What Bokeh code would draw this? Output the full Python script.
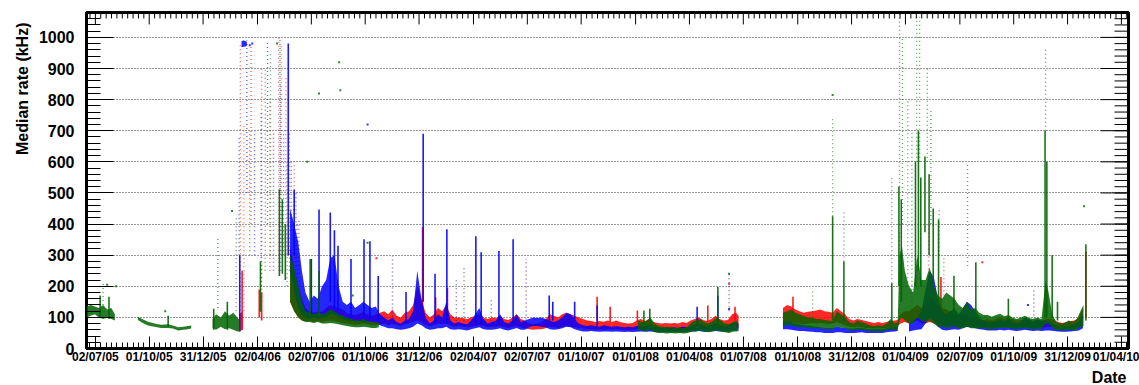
import numpy as np
from bokeh.plotting import figure
from bokeh.models import Range1d, FixedTicker, Title
from bokeh.embed import file_html
from bokeh.resources import INLINE

BASE_DATE = "2005-07-02"
X_START = "2005-06-17"
X_END = "2010-04-13"
Y_MAX = 1080

TICK_DATES = ["2005-07-02", "2005-10-01", "2005-12-31", "2006-04-02", "2006-07-02",
              "2006-10-01", "2006-12-31", "2007-04-02", "2007-07-02", "2007-10-01",
              "2008-01-01", "2008-04-01", "2008-07-01", "2008-10-01", "2008-12-31",
              "2009-04-01", "2009-07-02", "2009-10-01", "2009-12-31", "2010-04-01"]
TICK_LABELS = ["02/07/05", "01/10/05", "31/12/05", "02/04/06", "02/07/06",
               "01/10/06", "31/12/06", "02/04/07", "02/07/07", "01/10/07",
               "01/01/08", "01/04/08", "01/07/08", "01/10/08", "31/12/08",
               "01/04/09", "02/07/09", "01/10/09", "31/12/09", "01/04/10"]
Y_TICKS = [0, 100, 200, 300, 400, 500, 600, 700, 800, 900, 1000]
Y_MINOR = list(range(0, 1081, 20))

# ---------------- dense bands: (date, low kHz, high kHz); None = gap ----------------
RED_BAND = [
    ("2006-03-02", 55, 110), ("2006-03-08", 60, 120), None,
    ("2006-05-27", 150, 330), ("2006-06-03", 120, 260), ("2006-06-10", 100, 200),
    ("2006-06-16", 90, 160), ("2006-06-22", 88, 130), ("2006-06-29", 88, 120),
    ("2006-07-06", 85, 115), ("2006-07-13", 88, 120), ("2006-07-20", 85, 118),
    ("2006-07-27", 88, 130), ("2006-08-03", 90, 140), ("2006-08-10", 88, 135),
    ("2006-08-17", 85, 130), ("2006-08-24", 82, 125), ("2006-08-31", 80, 115),
    ("2006-09-07", 78, 110), ("2006-09-14", 76, 108), ("2006-09-21", 78, 112),
    ("2006-09-28", 80, 118), ("2006-10-05", 78, 110), ("2006-10-12", 75, 105),
    ("2006-10-19", 75, 110), ("2006-10-26", 78, 115), ("2006-11-02", 80, 120),
    ("2006-11-09", 75, 110), ("2006-11-16", 80, 125), ("2006-11-23", 75, 105),
    ("2006-11-30", 72, 100), ("2006-12-07", 78, 115), ("2006-12-14", 80, 120),
    ("2006-12-21", 85, 140), ("2006-12-28", 90, 200), ("2007-01-04", 85, 160),
    ("2007-01-11", 75, 115), ("2007-01-18", 72, 100), ("2007-01-25", 75, 110),
    ("2007-02-01", 80, 130), ("2007-02-08", 78, 120), ("2007-02-15", 80, 140),
    ("2007-02-22", 75, 110), ("2007-03-01", 70, 100), ("2007-03-08", 72, 100),
    ("2007-03-15", 70, 98), ("2007-03-22", 68, 95), ("2007-03-29", 70, 100),
    ("2007-04-05", 72, 105), ("2007-04-12", 75, 110), ("2007-04-19", 72, 100),
    ("2007-04-26", 68, 95), ("2007-05-03", 70, 100), ("2007-05-10", 70, 98),
    ("2007-05-17", 72, 105), ("2007-05-24", 68, 95), ("2007-05-31", 66, 92),
    ("2007-06-07", 70, 100), ("2007-06-14", 72, 110), ("2007-06-21", 68, 95),
    ("2007-06-28", 65, 90), ("2007-07-05", 62, 80), ("2007-07-12", 60, 78),
    ("2007-07-19", 62, 80), ("2007-07-26", 62, 85), ("2007-08-02", 65, 95),
    ("2007-08-09", 70, 110), ("2007-08-16", 68, 105), ("2007-08-23", 66, 100),
    ("2007-08-30", 70, 110), ("2007-09-06", 72, 115), ("2007-09-13", 70, 110),
    ("2007-09-20", 68, 105), ("2007-09-27", 66, 100), ("2007-10-04", 65, 95),
    ("2007-10-11", 62, 90), ("2007-10-18", 62, 88), ("2007-10-25", 60, 85),
    ("2007-11-01", 62, 88), ("2007-11-08", 60, 86), ("2007-11-15", 62, 90),
    ("2007-11-22", 60, 85), ("2007-11-29", 62, 90), ("2007-12-06", 60, 85),
    ("2007-12-13", 60, 82), ("2007-12-20", 58, 80), ("2007-12-27", 60, 82),
    ("2008-01-03", 62, 90), ("2008-01-10", 62, 95), ("2008-01-17", 60, 88),
    ("2008-01-24", 62, 95), ("2008-01-31", 60, 85), ("2008-02-07", 60, 82),
    ("2008-02-14", 58, 80), ("2008-02-21", 60, 82), ("2008-02-28", 58, 80),
    ("2008-03-06", 60, 82), ("2008-03-13", 58, 80), ("2008-03-20", 60, 85),
    ("2008-03-27", 60, 82), ("2008-04-03", 62, 90), ("2008-04-10", 62, 95),
    ("2008-04-17", 65, 100), ("2008-04-24", 62, 92), ("2008-05-01", 60, 88),
    ("2008-05-08", 62, 95), ("2008-05-15", 65, 105), ("2008-05-22", 62, 95),
    ("2008-05-29", 60, 90), ("2008-06-05", 60, 92), ("2008-06-12", 65, 110),
    ("2008-06-19", 68, 115), ("2008-06-23", 65, 105), None,
    ("2008-09-06", 85, 130), ("2008-09-13", 88, 140), ("2008-09-20", 85, 135),
    ("2008-09-27", 82, 125), ("2008-10-04", 80, 120), ("2008-10-11", 78, 115),
    ("2008-10-18", 80, 118), ("2008-10-25", 82, 120), ("2008-11-01", 80, 122),
    ("2008-11-08", 82, 125), ("2008-11-15", 80, 120), ("2008-11-22", 78, 118),
    ("2008-11-29", 80, 115), ("2008-12-06", 85, 130), ("2008-12-13", 80, 120),
    ("2008-12-20", 75, 110), ("2008-12-27", 70, 95), ("2009-01-03", 68, 90),
    ("2009-01-10", 70, 95), ("2009-01-17", 68, 92), ("2009-01-24", 66, 88),
    ("2009-01-31", 65, 85), ("2009-02-07", 64, 82), ("2009-02-14", 65, 85),
    ("2009-02-21", 64, 82), ("2009-02-28", 66, 85), ("2009-03-07", 68, 88),
    ("2009-03-14", 70, 90), ("2009-03-19", 72, 92), ("2009-03-24", 80, 110),
    ("2009-03-31", 85, 120), ("2009-04-07", 80, 120), ("2009-04-14", 85, 130),
    ("2009-04-21", 90, 140), ("2009-04-28", 80, 130), ("2009-05-05", 80, 140),
    ("2009-05-12", 85, 170), ("2009-05-19", 80, 160), ("2009-05-26", 75, 140),
    ("2009-06-02", 75, 130), ("2009-06-09", 72, 125), ("2009-06-16", 72, 120),
    ("2009-06-23", 70, 110), ("2009-06-30", 70, 105), ("2009-07-07", 72, 110),
    ("2009-07-14", 70, 105), ("2009-07-21", 68, 100), ("2009-07-28", 70, 100),
    ("2009-08-04", 68, 95), ("2009-08-11", 66, 92), ("2009-08-18", 68, 95),
    ("2009-08-25", 66, 92), ("2009-09-01", 68, 95), ("2009-09-08", 70, 100),
    ("2009-09-15", 68, 95), ("2009-09-22", 70, 98), ("2009-09-29", 68, 95),
    ("2009-10-06", 66, 90), ("2009-10-13", 68, 92), ("2009-10-20", 68, 95),
    ("2009-10-27", 66, 92), ("2009-11-03", 66, 90), ("2009-11-10", 68, 92),
    ("2009-11-17", 66, 90), ("2009-11-24", 68, 95), ("2009-12-01", 70, 95),
    ("2009-12-08", 68, 92), ("2009-12-15", 66, 85), ("2009-12-22", 65, 82),
    ("2009-12-29", 66, 85), ("2010-01-05", 66, 88), ("2010-01-12", 68, 90),
    ("2010-01-19", 70, 100), ("2010-01-26", 80, 130),
]

BLUE_BAND = [
    ("2006-03-06", 968, 988), ("2006-03-10", 970, 990), ("2006-03-15", 972, 986), None,
    ("2006-05-27", 250, 450), ("2006-06-03", 180, 400), ("2006-06-10", 130, 340),
    ("2006-06-16", 110, 250), ("2006-06-22", 100, 180), ("2006-06-29", 95, 150),
    ("2006-07-06", 100, 170), ("2006-07-13", 95, 160), ("2006-07-20", 100, 200),
    ("2006-07-27", 100, 220), ("2006-08-03", 110, 290), ("2006-08-10", 110, 300),
    ("2006-08-17", 100, 200), ("2006-08-24", 95, 150), ("2006-08-31", 90, 140),
    ("2006-09-07", 90, 150), ("2006-09-14", 85, 130), ("2006-09-21", 88, 140),
    ("2006-09-28", 85, 150), ("2006-10-05", 85, 140), ("2006-10-12", 85, 130),
    ("2006-10-19", 82, 135), ("2006-10-26", 75, 110), ("2006-11-02", 70, 100),
    ("2006-11-09", 65, 90), ("2006-11-16", 65, 100), ("2006-11-23", 62, 85),
    ("2006-11-30", 60, 80), ("2006-12-07", 62, 90), ("2006-12-14", 65, 95),
    ("2006-12-21", 70, 120), ("2006-12-28", 80, 250), ("2007-01-04", 75, 160),
    ("2007-01-11", 65, 100), ("2007-01-18", 60, 80), ("2007-01-25", 62, 90),
    ("2007-02-01", 65, 110), ("2007-02-08", 65, 100), ("2007-02-15", 70, 150),
    ("2007-02-22", 62, 90), ("2007-03-01", 60, 80), ("2007-03-08", 62, 85),
    ("2007-03-15", 60, 80), ("2007-03-22", 58, 78), ("2007-03-29", 62, 90),
    ("2007-04-05", 65, 110), ("2007-04-12", 68, 130), ("2007-04-19", 62, 95),
    ("2007-04-26", 60, 80), ("2007-05-03", 60, 85), ("2007-05-10", 62, 90),
    ("2007-05-17", 65, 110), ("2007-05-24", 60, 85), ("2007-05-31", 58, 80),
    ("2007-06-07", 62, 90), ("2007-06-14", 66, 110), ("2007-06-21", 60, 85),
    ("2007-06-28", 60, 90), ("2007-07-05", 68, 95), ("2007-07-12", 72, 100),
    ("2007-07-19", 72, 98), ("2007-07-26", 70, 100), ("2007-08-02", 68, 95),
    ("2007-08-09", 62, 90), ("2007-08-16", 60, 85), ("2007-08-23", 62, 90),
    ("2007-08-30", 65, 100), ("2007-09-06", 70, 115), ("2007-09-13", 68, 110),
    ("2007-09-20", 62, 95), ("2007-09-27", 58, 80), ("2007-10-04", 55, 75),
    ("2007-10-11", 55, 72), ("2007-10-18", 56, 75), ("2007-10-25", 55, 72),
    ("2007-11-01", 54, 70), ("2007-11-08", 55, 75), ("2007-11-15", 55, 72),
    ("2007-11-22", 54, 70), ("2007-11-29", 55, 72), ("2007-12-06", 54, 70),
    ("2007-12-13", 53, 68), ("2007-12-20", 54, 70), ("2007-12-27", 53, 68),
    ("2008-01-03", 54, 72), ("2008-01-10", 55, 75), ("2008-01-17", 54, 72),
    ("2008-01-24", 55, 78), ("2008-01-31", 54, 70), ("2008-02-07", 52, 68),
    ("2008-02-14", 52, 66), ("2008-02-21", 53, 68), ("2008-02-28", 52, 66),
    ("2008-03-06", 52, 68), ("2008-03-13", 52, 66), ("2008-03-20", 53, 70),
    ("2008-03-27", 52, 68), ("2008-04-03", 54, 72), ("2008-04-10", 55, 78),
    ("2008-04-17", 56, 80), ("2008-04-24", 54, 74), ("2008-05-01", 53, 70),
    ("2008-05-08", 55, 76), ("2008-05-15", 56, 82), ("2008-05-22", 55, 76),
    ("2008-05-29", 54, 72), ("2008-06-05", 54, 74), ("2008-06-12", 56, 80),
    ("2008-06-19", 58, 85), ("2008-06-23", 56, 80), None,
    ("2008-09-06", 62, 85), ("2008-09-13", 62, 88), ("2008-09-20", 60, 85),
    ("2008-09-27", 58, 80), ("2008-10-04", 56, 78), ("2008-10-11", 56, 75),
    ("2008-10-18", 55, 74), ("2008-10-25", 54, 72), ("2008-11-01", 52, 70),
    ("2008-11-08", 52, 68), ("2008-11-15", 50, 66), ("2008-11-22", 50, 66),
    ("2008-11-29", 50, 65), ("2008-12-06", 52, 70), ("2008-12-13", 52, 68),
    ("2008-12-20", 50, 66), ("2008-12-27", 50, 64), ("2009-01-03", 50, 64),
    ("2009-01-10", 51, 66), ("2009-01-17", 52, 66), ("2009-01-24", 50, 64),
    ("2009-01-31", 50, 62), ("2009-02-07", 50, 62), ("2009-02-14", 50, 63),
    ("2009-02-21", 50, 62), ("2009-02-28", 52, 65), ("2009-03-07", 54, 68),
    ("2009-03-14", 55, 70), ("2009-03-19", 56, 72), None,
    ("2009-04-07", 55, 80), ("2009-04-14", 58, 90), ("2009-04-21", 60, 100),
    ("2009-04-28", 62, 120), ("2009-05-05", 80, 190), ("2009-05-12", 100, 250),
    ("2009-05-19", 90, 230), ("2009-05-26", 70, 160), ("2009-06-02", 60, 120),
    ("2009-06-09", 58, 110), ("2009-06-16", 60, 120), ("2009-06-23", 62, 130),
    ("2009-06-30", 60, 110), ("2009-07-07", 65, 130), ("2009-07-14", 70, 150),
    ("2009-07-21", 68, 140), ("2009-07-28", 65, 120), ("2009-08-04", 62, 100),
    ("2009-08-11", 60, 90), ("2009-08-18", 58, 85), ("2009-08-25", 58, 85),
    ("2009-09-01", 58, 88), ("2009-09-08", 60, 92), ("2009-09-15", 58, 88),
    ("2009-09-22", 60, 95), ("2009-09-29", 58, 86), ("2009-10-06", 56, 80),
    ("2009-10-13", 58, 85), ("2009-10-20", 60, 100), ("2009-10-27", 58, 95),
    ("2009-11-03", 56, 85), ("2009-11-10", 58, 95), ("2009-11-17", 56, 88),
    ("2009-11-24", 58, 90), ("2009-12-01", 58, 85), ("2009-12-08", 56, 78),
    ("2009-12-15", 55, 72), ("2009-12-22", 54, 70), ("2009-12-29", 54, 70),
    ("2010-01-05", 55, 74), ("2010-01-12", 56, 78), ("2010-01-19", 58, 85),
    ("2010-01-26", 65, 110),
]

GREEN_BAND = [
    ("2005-06-17", 100, 135), ("2005-06-24", 105, 140), ("2005-07-01", 110, 135),
    ("2005-07-08", 100, 130), ("2005-07-15", 95, 140), ("2005-07-22", 100, 125),
    ("2005-07-29", 95, 130), ("2005-08-04", 90, 110), None,
    ("2005-09-12", 92, 102), ("2005-09-20", 82, 94), ("2005-09-29", 74, 86),
    ("2005-10-10", 70, 80), ("2005-10-21", 66, 76), ("2005-11-02", 66, 78),
    ("2005-11-10", 64, 74), ("2005-11-19", 58, 68), ("2005-11-28", 60, 70),
    ("2005-12-05", 62, 72), ("2005-12-11", 64, 74), None,
    ("2006-01-16", 65, 95), ("2006-01-22", 60, 110), ("2006-01-30", 70, 100),
    ("2006-02-06", 62, 120), ("2006-02-13", 65, 105), ("2006-02-20", 60, 115),
    ("2006-02-27", 55, 100), ("2006-03-03", 55, 90), None,
    ("2006-05-27", 150, 300), ("2006-06-03", 120, 260), ("2006-06-10", 100, 200),
    ("2006-06-16", 90, 150), ("2006-06-22", 85, 120), ("2006-06-29", 85, 115),
    ("2006-07-06", 82, 110), ("2006-07-13", 85, 115), ("2006-07-20", 80, 110),
    ("2006-07-27", 80, 115), ("2006-08-03", 82, 125), ("2006-08-10", 80, 120),
    ("2006-08-17", 78, 110), ("2006-08-24", 75, 105), ("2006-08-31", 72, 100),
    ("2006-09-07", 70, 95), ("2006-09-14", 68, 92), ("2006-09-21", 68, 90),
    ("2006-09-28", 70, 95), ("2006-10-05", 68, 88), ("2006-10-12", 66, 86),
    ("2006-10-19", 66, 85), ("2006-10-24", 68, 84), None,
    ("2008-01-05", 60, 90), ("2008-01-12", 58, 85), ("2008-01-19", 55, 88),
    ("2008-01-26", 60, 100), ("2008-02-02", 52, 80), ("2008-02-09", 50, 72),
    ("2008-02-16", 50, 70), ("2008-02-23", 48, 68), ("2008-03-01", 50, 70),
    ("2008-03-08", 48, 66), ("2008-03-15", 50, 68), ("2008-03-22", 48, 65),
    ("2008-03-29", 50, 70), ("2008-04-05", 55, 85), ("2008-04-12", 55, 90),
    ("2008-04-19", 58, 95), ("2008-04-26", 55, 85), ("2008-05-03", 52, 80),
    ("2008-05-10", 55, 88), ("2008-05-17", 58, 100), ("2008-05-24", 55, 90),
    ("2008-05-31", 52, 80), ("2008-06-07", 50, 78), ("2008-06-14", 55, 85),
    ("2008-06-21", 55, 90), None,
    ("2008-09-06", 72, 115), ("2008-09-13", 75, 120), ("2008-09-20", 75, 125),
    ("2008-09-27", 70, 115), ("2008-10-04", 68, 110), ("2008-10-11", 70, 105),
    ("2008-10-18", 66, 100), ("2008-10-25", 65, 100), ("2008-11-01", 65, 95),
    ("2008-11-08", 64, 95), ("2008-11-15", 63, 92), ("2008-11-22", 62, 90),
    ("2008-11-29", 62, 88), ("2008-12-06", 70, 120), ("2008-12-13", 68, 110),
    ("2008-12-20", 65, 100), ("2008-12-27", 60, 85), ("2009-01-03", 58, 80),
    ("2009-01-10", 60, 90), ("2009-01-17", 60, 85), ("2009-01-24", 58, 80),
    ("2009-01-31", 56, 75), ("2009-02-07", 55, 72), ("2009-02-14", 56, 75),
    ("2009-02-21", 55, 72), ("2009-02-28", 58, 80), ("2009-03-07", 62, 95),
    ("2009-03-14", 60, 80), ("2009-03-19", 60, 85), ("2009-03-22", 90, 300),
    ("2009-03-26", 100, 330), ("2009-03-31", 90, 250), ("2009-04-07", 80, 200),
    ("2009-04-14", 80, 180), ("2009-04-21", 100, 300), ("2009-04-28", 90, 220),
    ("2009-05-05", 85, 220), ("2009-05-12", 90, 260), ("2009-05-19", 80, 200),
    ("2009-05-26", 70, 170), ("2009-06-02", 70, 160), ("2009-06-09", 65, 180),
    ("2009-06-16", 70, 170), ("2009-06-23", 70, 160), ("2009-06-30", 65, 140),
    ("2009-07-07", 65, 130), ("2009-07-14", 70, 150), ("2009-07-21", 65, 125),
    ("2009-07-28", 65, 130), ("2009-08-04", 65, 115), ("2009-08-11", 65, 108),
    ("2009-08-18", 62, 108), ("2009-08-25", 62, 102), ("2009-09-01", 64, 108),
    ("2009-09-08", 66, 112), ("2009-09-15", 65, 104), ("2009-09-22", 66, 108),
    ("2009-09-29", 64, 100), ("2009-10-06", 62, 95), ("2009-10-13", 64, 100),
    ("2009-10-20", 65, 105), ("2009-10-27", 63, 98), ("2009-11-03", 62, 95),
    ("2009-11-10", 64, 100), ("2009-11-17", 62, 95), ("2009-11-24", 80, 220),
    ("2009-11-29", 80, 180), ("2009-12-05", 65, 110), ("2009-12-12", 60, 85),
    ("2009-12-19", 58, 80), ("2009-12-26", 58, 82), ("2010-01-02", 60, 90),
    ("2010-01-09", 58, 85), ("2010-01-16", 62, 95), ("2010-01-23", 70, 125),
    ("2010-01-27", 72, 140),
]

# ---------------- dense vertical spikes: (date, low, high) ----------------
RED_SPIKES = [
    ("2006-03-07", 60, 250), ("2006-04-05", 100, 190), ("2006-04-09", 90, 180),
    ("2007-01-06", 120, 390), ("2007-01-28", 100, 165), ("2007-02-17", 110, 195),
    ("2007-10-28", 90, 166), ("2007-11-19", 85, 134), ("2008-01-04", 85, 122),
    ("2008-05-02", 85, 138), ("2008-06-17", 90, 134), ("2008-09-23", 110, 166),
    ("2009-05-31", 90, 230), ("2010-01-31", 100, 310),
]
BLUE_SPIKES = [
    ("2006-03-03", 55, 300), ("2006-05-24", 300, 980), ("2006-06-03", 300, 510),
    ("2006-07-02", 110, 288), ("2006-07-15", 120, 447), ("2006-08-03", 150, 437),
    ("2006-08-10", 130, 380), ("2006-08-16", 120, 330), ("2006-09-07", 100, 288),
    ("2006-09-29", 100, 351), ("2006-10-09", 95, 345), ("2006-10-23", 90, 233),
    ("2006-12-09", 80, 182), ("2007-01-07", 150, 690), ("2007-01-27", 80, 240),
    ("2007-02-16", 80, 383), ("2007-04-06", 80, 361), ("2007-04-15", 80, 309),
    ("2007-05-15", 80, 313), ("2007-06-08", 80, 351), ("2007-08-08", 90, 170),
    ("2007-08-14", 90, 150), ("2007-09-20", 90, 150), ("2007-10-28", 70, 138),
    ("2008-04-14", 60, 134), ("2008-05-19", 60, 170),
]
GREEN_SPIKES = [
    ("2005-07-10", 100, 170), ("2005-07-25", 95, 166), ("2005-11-02", 70, 105),
    ("2006-01-18", 60, 128), ("2006-02-10", 60, 150), ("2006-04-07", 118, 280),
    ("2006-05-09", 233, 511), ("2006-05-14", 240, 480), ("2006-05-19", 220, 400),
    ("2006-06-30", 100, 288), ("2006-07-15", 100, 250), ("2008-01-15", 70, 122),
    ("2008-01-25", 70, 128), ("2008-05-19", 70, 198), ("2008-11-29", 90, 425),
    ("2008-12-18", 90, 280), ("2009-03-09", 80, 210), ("2009-03-21", 200, 521),
    ("2009-03-25", 150, 480), ("2009-04-18", 200, 600), ("2009-04-23", 250, 700),
    ("2009-04-27", 200, 550), ("2009-05-04", 374, 617), ("2009-05-11", 300, 560),
    ("2009-05-18", 200, 450), ("2009-05-27", 150, 415), ("2009-06-22", 100, 234),
    ("2009-07-29", 90, 277), ("2009-09-22", 90, 160), ("2009-11-23", 100, 700),
    ("2009-11-26", 100, 600), ("2009-12-05", 100, 300), ("2009-12-14", 90, 150),
    ("2010-01-31", 90, 335),
]

# ---------------- sparse, scattered streaks of points: (date, low, high) ----------------
RED_SCATTER = [
    ("2006-03-04", 110, 980), ("2006-03-10", 120, 720), ("2006-03-22", 400, 970),
    ("2006-04-09", 150, 900), ("2006-04-23", 250, 800), ("2006-05-08", 250, 1000),
    ("2006-05-12", 300, 980), ("2006-05-20", 300, 870), ("2006-05-26", 250, 700),
    ("2006-06-03", 200, 600), ("2006-06-08", 150, 400), ("2009-03-22", 100, 374),
    ("2009-05-10", 100, 400), ("2009-06-05", 120, 300),
]
BLUE_SCATTER = [
    ("2006-03-02", 300, 680), ("2006-03-15", 500, 990), ("2006-03-28", 300, 700),
    ("2006-04-08", 200, 760), ("2006-04-19", 400, 990), ("2006-04-29", 250, 700),
    ("2006-05-11", 250, 850), ("2006-05-16", 300, 700), ("2006-05-29", 250, 600),
    ("2006-06-06", 200, 500), ("2006-06-11", 150, 420), ("2006-11-16", 90, 297),
    ("2007-03-04", 75, 224), ("2007-03-17", 75, 261), ("2007-05-02", 75, 160),
    ("2007-06-30", 80, 288), ("2008-06-07", 120, 240), ("2009-11-04", 80, 190),
]
GREEN_SCATTER = [
    ("2005-07-15", 140, 210), ("2006-01-25", 130, 360), ("2006-02-25", 120, 420),
    ("2006-03-20", 300, 700), ("2006-04-15", 250, 900), ("2006-04-24", 300, 950),
    ("2006-05-10", 500, 1000), ("2006-05-22", 200, 600), ("2008-10-26", 90, 190),
    ("2008-11-29", 425, 745), ("2008-12-18", 280, 440), ("2009-03-09", 210, 550),
    ("2009-03-22", 520, 1080), ("2009-03-27", 400, 1000), ("2009-04-05", 200, 800),
    ("2009-04-12", 150, 700), ("2009-04-20", 600, 1080), ("2009-04-25", 600, 1080),
    ("2009-05-08", 600, 900), ("2009-05-14", 400, 770), ("2009-05-28", 300, 450),
    ("2009-07-15", 265, 600), ("2009-11-24", 700, 968),
]

# ---------------- isolated points: (date, kHz) ----------------
RED_DOTS = [("2008-06-07", 208), ("2009-08-09", 277), ("2006-10-20", 290)]
BLUE_DOTS = [("2008-06-07", 127), ("2006-10-05", 720), ("2009-10-25", 140),
             ("2006-03-20", 975), ("2006-03-24", 980)]
GREEN_DOTS = [("2005-07-22", 205), ("2005-08-06", 200), ("2005-10-28", 120),
              ("2006-02-18", 442), ("2006-05-05", 980), ("2006-07-15", 820),
              ("2006-08-18", 920), ("2006-08-20", 830), ("2006-09-10", 170),
              ("2006-10-05", 340), ("2008-06-07", 240), ("2008-11-29", 815),
              ("2010-01-28", 457), ("2006-06-25", 600)]

RED, BLUE, GREEN = "#ff0000", "#0000ff", "#006400"
FONT = "Liberation Sans"

W, H = 1139, 385
BL, BR, BT, BB = 86, 11, 12, 35


def days(dates):
    d = np.array(dates, dtype="datetime64[D]")
    return (d - np.datetime64(BASE_DATE)).astype(int)


def runs(rows):
    out, cur = [], []
    for r in rows:
        if r is None:
            if cur:
                out.append(cur)
            cur = []
        else:
            cur.append(r)
    if cur:
        out.append(cur)
    return out


x0 = int(days([X_START])[0])
x1 = int(days([X_END])[0])
tick_x = [int(v) for v in days(TICK_DATES)]

minor = []
step0 = (tick_x[1] - tick_x[0]) / 10.0
v = tick_x[0] - step0
while v > x0:
    minor.append(v)
    v -= step0
for a, b in zip(tick_x[:-1], tick_x[1:]):
    minor.extend(list(np.linspace(a, b, 11))[1:-1])
v = tick_x[-1] + step0
while v < x1:
    minor.append(v)
    v += step0

p = figure(width=W, height=H, output_backend="svg", toolbar_location=None,
           x_range=Range1d(x0, x1), y_range=Range1d(0, Y_MAX),
           min_border_left=BL, min_border_right=BR, min_border_top=BT,
           min_border_bottom=BB)
p.background_fill_color = "white"
p.border_fill_color = "white"
p.outline_line_color = "black"
p.outline_line_width = 3
p.xgrid.visible = False
p.ygrid.ticker = FixedTicker(ticks=Y_TICKS[1:])
p.ygrid.grid_line_color = "#333333"
p.ygrid.grid_line_dash = "1 2"
p.ygrid.grid_line_width = 1


def draw(band, spikes, scatter, dots, color):
    for run in runs(band):
        xs = days([r[0] for r in run])
        p.varea(x=xs, y1=[r[1] for r in run], y2=[r[2] for r in run],
                fill_color=color, fill_alpha=0.85)
    p.segment(x0=days([r[0] for r in spikes]), y0=[r[1] for r in spikes],
              x1=days([r[0] for r in spikes]), y1=[r[2] for r in spikes],
              line_color=color, line_width=1.6, line_alpha=0.9)
    p.segment(x0=days([r[0] for r in scatter]), y0=[r[1] for r in scatter],
              x1=days([r[0] for r in scatter]), y1=[r[2] for r in scatter],
              line_color=color, line_width=1.4, line_alpha=0.6, line_dash="1 3")
    p.scatter(x=days([r[0] for r in dots]), y=[r[1] for r in dots], size=2,
              marker="square", fill_color=color, line_color=None, fill_alpha=0.8)


draw(RED_BAND, RED_SPIKES, RED_SCATTER, RED_DOTS, RED)
draw(BLUE_BAND, BLUE_SPIKES, BLUE_SCATTER, BLUE_DOTS, BLUE)
draw(GREEN_BAND, GREEN_SPIKES, GREEN_SCATTER, GREEN_DOTS, GREEN)

# ---- mirrored ticks on the top and right edges (ROOT style) ----
fw = W - BL - BR
fh = H - BT - BB
ypp = Y_MAX / fh
xpp = (x1 - x0) / fw
p.segment(x0=tick_x, y0=[Y_MAX] * len(tick_x), x1=tick_x,
          y1=[Y_MAX - 12 * ypp] * len(tick_x), line_color="black", line_width=1)
p.segment(x0=minor, y0=[Y_MAX] * len(minor), x1=minor,
          y1=[Y_MAX - 6 * ypp] * len(minor), line_color="black", line_width=1)
p.segment(x0=[x1] * len(Y_TICKS), y0=Y_TICKS, x1=[x1 - 28 * xpp] * len(Y_TICKS),
          y1=Y_TICKS, line_color="black", line_width=1)
p.segment(x0=[x1] * len(Y_MINOR), y0=Y_MINOR, x1=[x1 - 14 * xpp] * len(Y_MINOR),
          y1=Y_MINOR, line_color="black", line_width=1)

# ---- axes ----
xb = p.xaxis[0]
xb.ticker = FixedTicker(ticks=tick_x, minor_ticks=minor)
xb.major_label_overrides = {t: lab for t, lab in zip(tick_x, TICK_LABELS)}
xb.major_label_text_font = FONT
xb.major_label_text_font_style = "bold"
xb.major_label_text_font_size = "12px"
xb.major_label_text_color = "black"
xb.major_label_standoff = 1
xb.major_tick_in = 12
xb.major_tick_out = 0
xb.minor_tick_in = 6
xb.minor_tick_out = 0

yl = p.yaxis[0]
yl.ticker = FixedTicker(ticks=Y_TICKS, minor_ticks=Y_MINOR)
yl.major_label_text_font = FONT
yl.major_label_text_font_style = "bold"
yl.major_label_text_font_size = "16px"
yl.major_label_text_color = "black"
yl.major_label_standoff = 12
yl.major_tick_in = 27
yl.major_tick_out = 0
yl.minor_tick_in = 14
yl.minor_tick_out = 0

for ax in (xb, yl):
    ax.axis_line_color = None
    ax.major_tick_line_color = "black"
    ax.minor_tick_line_color = "black"

# ---- axis titles (ROOT puts them at the far end of each axis) ----
p.add_layout(Title(text="Median rate (kHz)", align="right", offset=10, standoff=10,
                   text_font=FONT, text_font_style="bold", text_font_size="16px",
                   text_color="black"), "left")
p.add_layout(Title(text="Date", align="right", offset=2, standoff=0,
                   text_font=FONT, text_font_style="bold", text_font_size="16px",
                   text_color="black"), "below")

open("out.html", "w").write(file_html(p, INLINE))
